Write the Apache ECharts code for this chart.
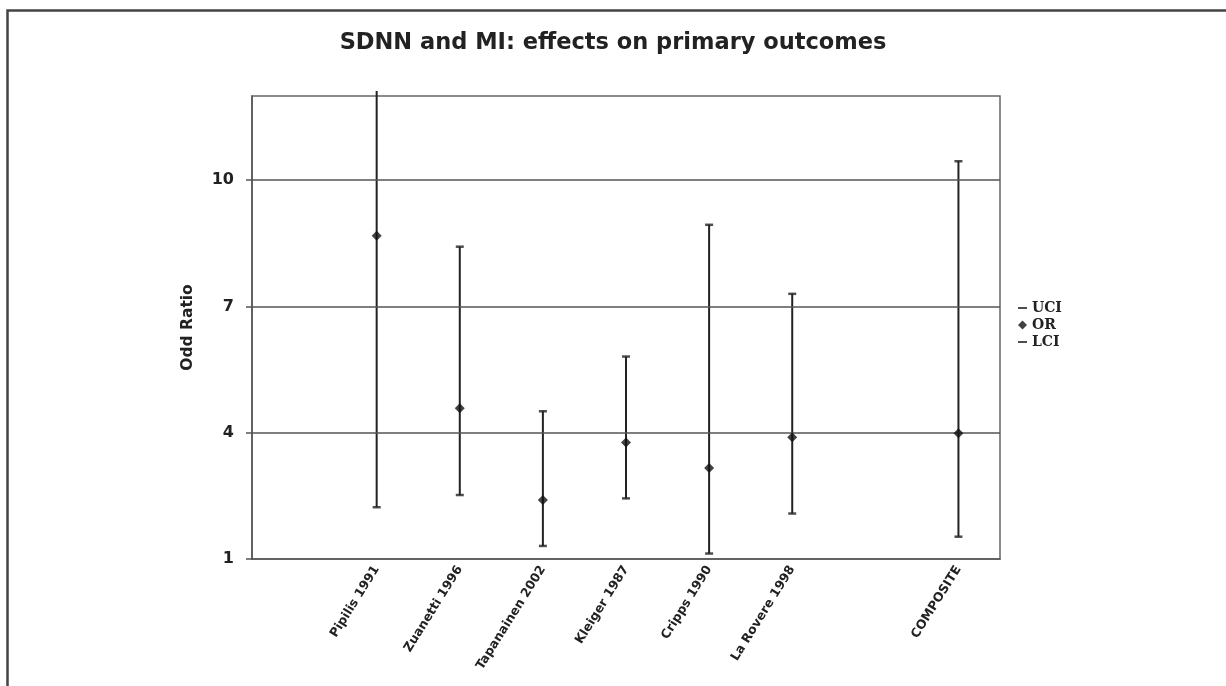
<!DOCTYPE html>
<html>
<head>
<meta charset="utf-8">
<script src="https://cdn.jsdelivr.net/npm/echarts@6/dist/echarts.min.js"></script>
<style>html,body{margin:0;padding:0;background:#fff;}#c{width:1226px;height:686px;}</style>
</head>
<body>
<div id="c"></div>
<script>
const categories = ['', 'Pipilis 1991', 'Zuanetti 1996', 'Tapanainen 2002', 'Kleiger 1987', 'Cripps 1990', 'La Rovere 1998', '', 'COMPOSITE'];
const uci = [null, 13, 8.42, 4.51, 5.81, 8.94, 7.30, null, 10.45];
const orVals = [null, 8.68, 4.58, 2.40, 3.77, 3.16, 3.89, null, 3.99];
const lci = [null, 2.23, 2.52, 1.31, 2.44, 1.13, 2.08, null, 1.53];
const yTicks = [1, 4, 7, 10];
const gridLines = [4, 7, 10];

const rangeData = [];
categories.forEach((c, i) => { if (lci[i] != null) rangeData.push([i, lci[i], uci[i]]); });

const chart = echarts.init(document.getElementById('c'));
chart.setOption({
  backgroundColor: '#fff',
  animation: false,
  graphic: [{
    type: 'rect', left: 5, top: 8, silent: true,
    shape: { width: 1300, height: 800 },
    style: { fill: 'none', stroke: '#444', lineWidth: 2.5 }
  }],
  title: {
    text: 'SDNN and MI: effects on primary outcomes',
    left: 'center', top: 27,
    textStyle: { fontFamily: 'DejaVu Sans', fontWeight: 'bold', fontSize: 22.5, color: '#222' }
  },
  legend: {
    orient: 'vertical', left: 1013, top: 296, itemGap: 3, itemWidth: 9, itemHeight: 9,
    textStyle: { fontFamily: 'DejaVu Serif', fontWeight: 'bold', fontSize: 14, color: '#222' },
    data: [
      { name: 'UCI', icon: 'path://M0,0H10V2.2H0Z' },
      { name: 'OR', icon: 'diamond' },
      { name: 'LCI', icon: 'path://M0,0H10V2.2H0Z' }
    ]
  },
  grid: { left: 252, right: 226, top: 96, bottom: 127, show: true, borderColor: '#666', borderWidth: 1.5 },
  xAxis: {
    type: 'category', data: categories,
    axisLine: { show: true, lineStyle: { color: '#555', width: 1.5 } },
    axisTick: { show: false },
    axisLabel: { interval: 0, rotate: 58, margin: 8, fontFamily: 'DejaVu Sans', fontWeight: 'bold', fontSize: 12.5, color: '#222' },
    splitLine: { show: false }
  },
  yAxis: {
    type: 'value', min: 1, max: 12,
    name: 'Odd Ratio', nameLocation: 'middle', nameGap: 56, nameRotate: 90,
    nameTextStyle: { fontFamily: 'DejaVu Sans', fontWeight: 'bold', fontSize: 15.5, color: '#222' },
    axisLine: { show: true, lineStyle: { color: '#555', width: 1.5 } },
    axisTick: { show: true, length: 6, customValues: yTicks, lineStyle: { color: '#555', width: 1.5 } },
    axisLabel: { customValues: yTicks, margin: 18, fontFamily: 'DejaVu Sans', fontWeight: 'bold', fontSize: 16, color: '#222' },
    splitLine: { show: false }
  },
  series: [
    {
      type: 'custom', name: 'range', silent: true, clip: false, z: 3,
      renderItem: function (params, api) {
        const x = api.value(0);
        const lo = api.coord([x, api.value(1)]);
        const hi = api.coord([x, api.value(2)]);
        const topY = Math.max(hi[1], params.coordSys.y - 5);
        return { type: 'line', shape: { x1: lo[0], y1: lo[1], x2: hi[0], y2: topY },
          style: { stroke: '#222', lineWidth: 2 } };
      },
      data: rangeData,
      markLine: {
        silent: true, symbol: 'none', label: { show: false },
        lineStyle: { type: 'solid', color: '#555', width: 1.5 },
        data: gridLines.map(v => ({ yAxis: v }))
      }
    },
    { type: 'scatter', name: 'UCI', data: uci, symbol: 'rect', symbolSize: [8, 2.5], itemStyle: { color: '#222' }, z: 4 },
    { type: 'scatter', name: 'OR', data: orVals, symbol: 'diamond', symbolSize: 10, itemStyle: { color: '#111' }, z: 5 },
    { type: 'scatter', name: 'LCI', data: lci, symbol: 'rect', symbolSize: [8, 2.5], itemStyle: { color: '#222' }, z: 4 }
  ]
});
</script>
</body>
</html>
